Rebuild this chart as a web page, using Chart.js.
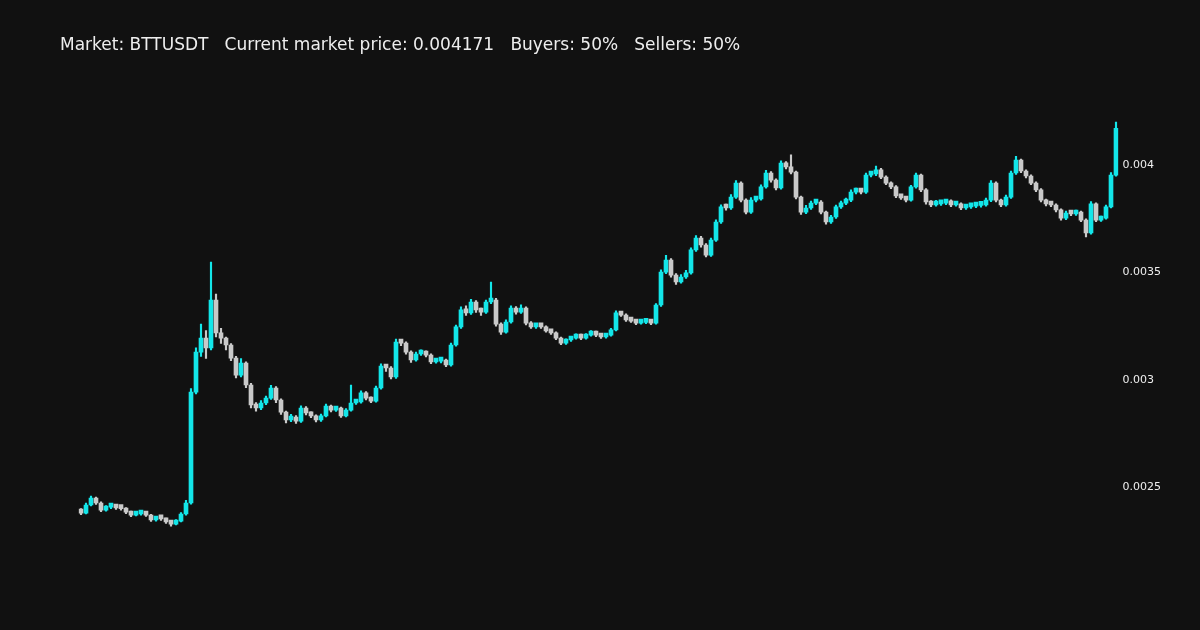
<!DOCTYPE html>
<html>
<head>
<meta charset="utf-8">
<title>BTTUSDT</title>
<script src="https://cdn.jsdelivr.net/npm/chart.js@4"></script>
<style>
  html, body { margin: 0; padding: 0; background: #111111; }
  #wrap { position: relative; width: 1200px; height: 630px; }
  #title {
    position: absolute; left: 60px; top: 33px;
    font-family: "DejaVu Sans", sans-serif; font-size: 17px; line-height: 22px;
    color: #eeeeee; white-space: pre;
  }
  canvas { position: absolute; left: 0; top: 0; }
</style>
</head>
<body>
<div id="wrap">
  <canvas id="chart" width="1200" height="630"></canvas>
  <div id="title">Market: BTTUSDT   Current market price: 0.004171   Buyers: 50%   Sellers: 50%</div>
</div>
<script>
// candle prices (USDT), one entry per candle, oldest first
const opens = [
  0.002395, 0.002381, 0.002419, 0.002451, 0.002428, 0.002395, 0.002409, 0.002414, 0.002405, 0.002402, 0.002386, 0.002372, 0.002377,
  0.002381, 0.002372, 0.002349, 0.002358, 0.002354, 0.002340, 0.002330, 0.002344, 0.002377, 0.002428, 0.002944, 0.003130, 0.003195,
  0.003149, 0.003372, 0.003219, 0.003195, 0.003163, 0.003102, 0.003023, 0.003079, 0.002977, 0.002884, 0.002870, 0.002893, 0.002916,
  0.002963, 0.002907, 0.002851, 0.002814, 0.002828, 0.002809, 0.002870, 0.002847, 0.002833, 0.002814, 0.002833, 0.002879, 0.002860,
  0.002870, 0.002833, 0.002860, 0.002893, 0.002898, 0.002940, 0.002916, 0.002902, 0.002963, 0.003065, 0.003056, 0.003014, 0.003177,
  0.003172, 0.003130, 0.003093, 0.003121, 0.003130, 0.003116, 0.003084, 0.003088, 0.003093, 0.003070, 0.003163, 0.003247, 0.003326,
  0.003312, 0.003363, 0.003326, 0.003316, 0.003363, 0.003372, 0.003260, 0.003223, 0.003270, 0.003335, 0.003316, 0.003335, 0.003265,
  0.003247, 0.003256, 0.003247, 0.003228, 0.003219, 0.003195, 0.003172, 0.003186, 0.003195, 0.003209, 0.003195, 0.003209, 0.003223,
  0.003209, 0.003200, 0.003209, 0.003233, 0.003312, 0.003302, 0.003279, 0.003274, 0.003265, 0.003268, 0.003270, 0.003265, 0.003349,
  0.003502, 0.003558, 0.003488, 0.003456, 0.003479, 0.003498, 0.003605, 0.003660, 0.003628, 0.003581, 0.003651, 0.003735, 0.003805,
  0.003800, 0.003851, 0.003916, 0.003837, 0.003781, 0.003837, 0.003842, 0.003898, 0.003963, 0.003930, 0.003893, 0.004009, 0.003991,
  0.003967, 0.003851, 0.003781, 0.003800, 0.003823, 0.003828, 0.003781, 0.003735, 0.003758, 0.003805, 0.003823, 0.003837, 0.003874,
  0.003884, 0.003874, 0.003953, 0.003958, 0.003977, 0.003944, 0.003916, 0.003898, 0.003856, 0.003847, 0.003837, 0.003898, 0.003953,
  0.003884, 0.003828, 0.003814, 0.003819, 0.003823, 0.003833, 0.003814, 0.003819, 0.003800, 0.003805, 0.003809, 0.003812, 0.003814,
  0.003837, 0.003916, 0.003837, 0.003814, 0.003851, 0.003963, 0.004023, 0.003972, 0.003949, 0.003916, 0.003884, 0.003837, 0.003819,
  0.003814, 0.003791, 0.003753, 0.003777, 0.003772, 0.003781, 0.003744, 0.003684, 0.003819, 0.003744, 0.003753, 0.003805, 0.003953
];
const closes = [
  0.002381, 0.002419, 0.002451, 0.002428, 0.002395, 0.002409, 0.002414, 0.002405, 0.002402, 0.002386, 0.002372, 0.002377, 0.002381,
  0.002372, 0.002349, 0.002358, 0.002354, 0.002340, 0.002330, 0.002344, 0.002377, 0.002428, 0.002944, 0.003130, 0.003195, 0.003149,
  0.003372, 0.003219, 0.003195, 0.003163, 0.003102, 0.003023, 0.003079, 0.002977, 0.002884, 0.002870, 0.002893, 0.002916, 0.002963,
  0.002907, 0.002851, 0.002814, 0.002828, 0.002809, 0.002870, 0.002847, 0.002833, 0.002814, 0.002833, 0.002879, 0.002860, 0.002870,
  0.002833, 0.002860, 0.002893, 0.002898, 0.002940, 0.002916, 0.002902, 0.002963, 0.003065, 0.003056, 0.003014, 0.003177, 0.003172,
  0.003130, 0.003093, 0.003121, 0.003130, 0.003116, 0.003084, 0.003088, 0.003093, 0.003070, 0.003163, 0.003247, 0.003326, 0.003312,
  0.003363, 0.003326, 0.003316, 0.003363, 0.003372, 0.003260, 0.003223, 0.003270, 0.003335, 0.003316, 0.003335, 0.003265, 0.003247,
  0.003256, 0.003247, 0.003228, 0.003219, 0.003195, 0.003172, 0.003186, 0.003195, 0.003209, 0.003195, 0.003209, 0.003223, 0.003209,
  0.003200, 0.003209, 0.003233, 0.003312, 0.003302, 0.003279, 0.003274, 0.003265, 0.003268, 0.003270, 0.003265, 0.003349, 0.003502,
  0.003558, 0.003488, 0.003456, 0.003479, 0.003498, 0.003605, 0.003660, 0.003628, 0.003581, 0.003651, 0.003735, 0.003805, 0.003800,
  0.003851, 0.003916, 0.003837, 0.003781, 0.003837, 0.003842, 0.003898, 0.003963, 0.003930, 0.003893, 0.004009, 0.003991, 0.003967,
  0.003851, 0.003781, 0.003800, 0.003823, 0.003828, 0.003781, 0.003735, 0.003758, 0.003805, 0.003823, 0.003837, 0.003874, 0.003884,
  0.003874, 0.003953, 0.003958, 0.003977, 0.003944, 0.003916, 0.003898, 0.003856, 0.003847, 0.003837, 0.003898, 0.003953, 0.003884,
  0.003828, 0.003814, 0.003819, 0.003823, 0.003833, 0.003814, 0.003819, 0.003800, 0.003805, 0.003809, 0.003812, 0.003814, 0.003837,
  0.003916, 0.003837, 0.003814, 0.003851, 0.003963, 0.004023, 0.003972, 0.003949, 0.003916, 0.003884, 0.003837, 0.003819, 0.003814,
  0.003791, 0.003753, 0.003777, 0.003772, 0.003781, 0.003744, 0.003684, 0.003819, 0.003744, 0.003753, 0.003805, 0.003953, 0.004171
];
const highs = [
  0.002402, 0.002428, 0.002460, 0.002456, 0.002433, 0.002416, 0.002421, 0.002419, 0.002410, 0.002407, 0.002390, 0.002384, 0.002388,
  0.002386, 0.002375, 0.002365, 0.002363, 0.002358, 0.002344, 0.002351, 0.002384, 0.002440, 0.002960, 0.003150, 0.003260, 0.003230,
  0.003549, 0.003400, 0.003240, 0.003200, 0.003170, 0.003110, 0.003100, 0.003085, 0.002985, 0.002895, 0.002905, 0.002925, 0.002975,
  0.002970, 0.002912, 0.002856, 0.002840, 0.002835, 0.002880, 0.002876, 0.002852, 0.002838, 0.002842, 0.002888, 0.002884, 0.002878,
  0.002874, 0.002867, 0.002977, 0.002906, 0.002950, 0.002946, 0.002922, 0.002972, 0.003075, 0.003072, 0.003062, 0.003190, 0.003186,
  0.003178, 0.003136, 0.003130, 0.003140, 0.003136, 0.003122, 0.003098, 0.003102, 0.003098, 0.003172, 0.003256, 0.003340, 0.003345,
  0.003375, 0.003370, 0.003335, 0.003372, 0.003456, 0.003380, 0.003266, 0.003280, 0.003345, 0.003342, 0.003350, 0.003340, 0.003272,
  0.003264, 0.003262, 0.003252, 0.003234, 0.003224, 0.003200, 0.003192, 0.003202, 0.003215, 0.003214, 0.003216, 0.003230, 0.003228,
  0.003214, 0.003216, 0.003240, 0.003322, 0.003318, 0.003308, 0.003286, 0.003280, 0.003276, 0.003278, 0.003276, 0.003356, 0.003512,
  0.003580, 0.003565, 0.003495, 0.003490, 0.003510, 0.003615, 0.003672, 0.003668, 0.003634, 0.003660, 0.003745, 0.003815, 0.003818,
  0.003862, 0.003928, 0.003922, 0.003843, 0.003848, 0.003852, 0.003908, 0.003975, 0.003970, 0.003936, 0.004020, 0.004016, 0.004047,
  0.003972, 0.003856, 0.003812, 0.003832, 0.003838, 0.003834, 0.003786, 0.003766, 0.003814, 0.003832, 0.003846, 0.003884, 0.003893,
  0.003890, 0.003962, 0.003968, 0.003995, 0.003984, 0.003950, 0.003922, 0.003904, 0.003862, 0.003852, 0.003906, 0.003962, 0.003958,
  0.003890, 0.003834, 0.003836, 0.003834, 0.003840, 0.003838, 0.003828, 0.003824, 0.003812, 0.003818, 0.003820, 0.003822, 0.003846,
  0.003928, 0.003922, 0.003842, 0.003860, 0.003972, 0.004040, 0.004028, 0.003978, 0.003954, 0.003922, 0.003890, 0.003842, 0.003826,
  0.003820, 0.003796, 0.003786, 0.003784, 0.003790, 0.003786, 0.003750, 0.003830, 0.003824, 0.003762, 0.003814, 0.003965, 0.004200
];
const lows = [
  0.002374, 0.002377, 0.002414, 0.002421, 0.002388, 0.002390, 0.002402, 0.002398, 0.002395, 0.002379, 0.002365, 0.002368, 0.002372,
  0.002366, 0.002342, 0.002344, 0.002347, 0.002333, 0.002320, 0.002326, 0.002340, 0.002372, 0.002423, 0.002935, 0.003110, 0.003100,
  0.003140, 0.003200, 0.003170, 0.003140, 0.003090, 0.003010, 0.003015, 0.002965, 0.002870, 0.002855, 0.002862, 0.002885, 0.002910,
  0.002895, 0.002840, 0.002800, 0.002806, 0.002798, 0.002803, 0.002838, 0.002825, 0.002805, 0.002808, 0.002828, 0.002852, 0.002854,
  0.002826, 0.002828, 0.002855, 0.002886, 0.002892, 0.002908, 0.002895, 0.002897, 0.002958, 0.003040, 0.003005, 0.003008, 0.003160,
  0.003120, 0.003082, 0.003088, 0.003114, 0.003108, 0.003076, 0.003078, 0.003080, 0.003062, 0.003065, 0.003158, 0.003240, 0.003300,
  0.003305, 0.003315, 0.003300, 0.003310, 0.003355, 0.003250, 0.003212, 0.003218, 0.003265, 0.003306, 0.003310, 0.003256, 0.003240,
  0.003240, 0.003240, 0.003222, 0.003212, 0.003188, 0.003165, 0.003166, 0.003180, 0.003190, 0.003188, 0.003190, 0.003204, 0.003202,
  0.003194, 0.003195, 0.003204, 0.003228, 0.003296, 0.003272, 0.003268, 0.003258, 0.003260, 0.003262, 0.003258, 0.003260, 0.003342,
  0.003495, 0.003478, 0.003445, 0.003450, 0.003472, 0.003492, 0.003598, 0.003618, 0.003572, 0.003575, 0.003645, 0.003728, 0.003790,
  0.003794, 0.003845, 0.003828, 0.003772, 0.003775, 0.003828, 0.003836, 0.003892, 0.003920, 0.003884, 0.003888, 0.003982, 0.003958,
  0.003842, 0.003770, 0.003774, 0.003794, 0.003816, 0.003772, 0.003725, 0.003728, 0.003752, 0.003798, 0.003816, 0.003830, 0.003866,
  0.003866, 0.003868, 0.003945, 0.003950, 0.003936, 0.003908, 0.003890, 0.003848, 0.003840, 0.003828, 0.003832, 0.003892, 0.003876,
  0.003818, 0.003806, 0.003808, 0.003812, 0.003816, 0.003806, 0.003808, 0.003792, 0.003794, 0.003798, 0.003802, 0.003804, 0.003808,
  0.003830, 0.003828, 0.003806, 0.003808, 0.003845, 0.003956, 0.003964, 0.003940, 0.003908, 0.003876, 0.003828, 0.003810, 0.003806,
  0.003782, 0.003744, 0.003746, 0.003764, 0.003766, 0.003736, 0.003665, 0.003678, 0.003736, 0.003738, 0.003748, 0.003800, 0.003948
];
const yTickValues = [0.0025, 0.003, 0.0035, 0.004];

const upColor = '#13e6e9';
const downColor = '#c9c9c9';

const labels = closes.map((_, i) => String(i + 1));
const candleColors = closes.map((c, i) => (c >= opens[i] ? upColor : downColor));

const ctx = document.getElementById('chart').getContext('2d');
new Chart(ctx, {
  type: 'bar',
  data: {
    labels: labels,
    datasets: [
      {
        // wicks
        data: lows.map((l, i) => [l, highs[i]]),
        backgroundColor: candleColors,
        barThickness: 1.5,
        grouped: false,
        borderWidth: 0
      },
      {
        // bodies
        data: opens.map((o, i) => [o, closes[i]]),
        backgroundColor: candleColors,
        barThickness: 4,
        minBarLength: 4,
        grouped: false,
        borderWidth: 0
      }
    ]
  },
  options: {
    responsive: false,
    animation: false,
    layout: { padding: { left: 78.5, right: 0, top: 100.5, bottom: 50 } },
    plugins: {
      legend: { display: false },
      tooltip: { enabled: false }
    },
    scales: {
      x: {
        display: false,
        offset: true
      },
      y: {
        position: 'right',
        min: 0.00207,
        max: 0.0043,
        grid: { display: false, drawTicks: false },
        border: { display: false },
        afterBuildTicks: function(scale) {
          scale.ticks = yTickValues.map(v => ({ value: v }));
        },
        afterFit: function(scale) {
          scale.width = 81.5;
        },
        ticks: {
          padding: 4,
          color: '#eeeeee',
          font: { family: 'DejaVu Sans', size: 11 },
          callback: function(value) {
            return String(value);
          }
        }
      }
    }
  }
});
</script>
</body>
</html>
